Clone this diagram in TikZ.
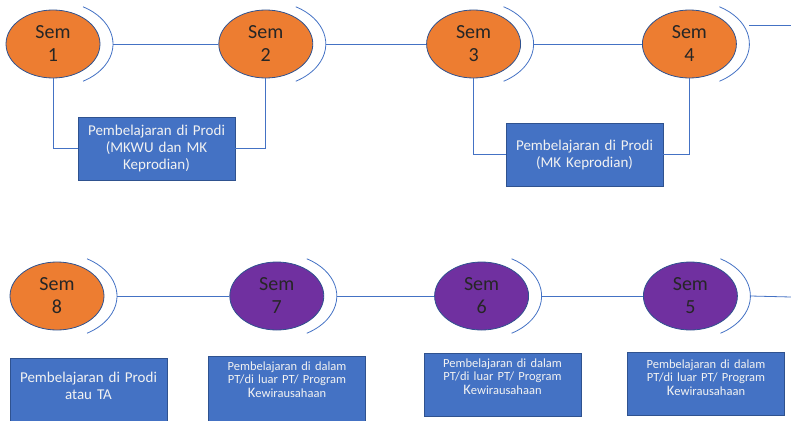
\documentclass[tikz,border=0pt]{standalone}
\usepackage{fontspec}
\setmainfont{Carlito}
\usetikzlibrary{positioning,calc,shapes.geometric}

\definecolor{semorange}{HTML}{ED7D31}
\definecolor{sempurple}{HTML}{7030A0}
\definecolor{boxblue}{HTML}{4472C4}
\definecolor{rimblue}{HTML}{2F528F}
\definecolor{linkblue}{HTML}{4472C4}
\definecolor{darktext}{HTML}{262626}
\definecolor{boxtext}{HTML}{F2F2F2}

\begin{document}
\begin{tikzpicture}[x=1pt,y=-1pt]
		\tikzstyle{sem} = [ellipse,draw=rimblue,line width=0.8pt,minimum width=94pt,minimum height=68pt,inner sep=0pt,align=center,text=darktext,font=\fontsize{20}{23}\selectfont]
		\tikzstyle{block} = [rectangle,draw=rimblue,fill=boxblue,line width=0.8pt,minimum width=157pt,minimum height=63pt,text width=150pt,align=center,text=boxtext,font=\fontsize{15}{17}\selectfont]
		\tikzstyle{smallblock} = [block,inner ysep=0pt,font=\fontsize{12.5}{13.5}\selectfont]
		\tikzstyle{link} = [draw=linkblue,line width=0.8pt]
		
		\useasboundingbox (0,0) rectangle (791,420);
		
		\node[sem,fill=semorange] (s1) at (53,44) {Sem\\1};
		\node[sem,fill=semorange,right=118pt of s1] (s2) {Sem\\2};
		\node[sem,fill=semorange,right=113pt of s2] (s3) {Sem\\3};
		\node[sem,fill=semorange,right=121pt of s3] (s4) {Sem\\4};
		
		\node[sem,fill=semorange] (s8) at (57,296) {Sem\\8};
		\node[sem,fill=sempurple,right=125pt of s8] (s7) {Sem\\7};
		\node[sem,fill=sempurple,right=110pt of s7] (s6) {Sem\\6};
		\node[sem,fill=sempurple,right=114pt of s6] (s5) {Sem\\5};
		
		\node[block] (b1) at (156.5,148.5) {Pembelajaran di Prodi\\(MKWU dan MK\\Keprodian)};
		\node[block] (b2) at (584.5,154.5) {Pembelajaran di Prodi\\(MK Keprodian)};
		
		\node[block,inner ysep=0pt,text height=24pt,text depth=50pt,anchor=north] (b8) at (88.5,358) {Pembelajaran di Prodi\\atau TA};
		\node[smallblock,text height=14pt,text depth=60pt,anchor=north] (b7) at (287,356) {Pembelajaran di dalam\\PT/di luar PT/ Program\\{\fontsize{14.5}{13.5}\selectfont K}ewirausahaan};
		\node[smallblock,text height=14pt,text depth=49pt,anchor=north] (b6) at (502.5,353) {Pembelajaran di dalam\\PT/di luar PT/ Program\\{\fontsize{14.5}{13.5}\selectfont K}ewirausahaan};
		\node[smallblock,text height=16pt,text depth=47pt,anchor=north] (b5) at (706,352) {Pembelajaran di dalam\\PT/di luar PT/ Program\\{\fontsize{14.5}{13.5}\selectfont K}ewirausahaan};
		
		% brackets behind each semester
		\foreach \n in {1,...,8}{
			\draw[link] ($(s\n.center)+(-60:60 and 43)$) arc[start angle=-60,end angle=60,x radius=60,y radius=43];
			\coordinate (r\n) at ($(s\n.center)+(60,0)$);
		}
		
		\coordinate (e4) at (791,25);
		\coordinate (e5) at (791,297);
		
		\draw[link] (r1)--(s2.west);
		\draw[link] (r2)--(s3.west);
		\draw[link] (r3)--(s4.west);
		\draw[link] (r4|-e4)--(e4);
		
		\draw[link] (r8)--(s7.west);
		\draw[link] (r7)--(s6.west);
		\draw[link] (r6)--(s5.west);
		\draw[link] (r5)--(e5);
		
		\draw[link] (s1.south)|-(b1.west);
		\draw[link] (s2.south)|-(b1.east);
		\draw[link] (s3.south)|-(b2.west);
		\draw[link] (s4.south)|-(b2.east);
	\end{tikzpicture}
\end{document}
